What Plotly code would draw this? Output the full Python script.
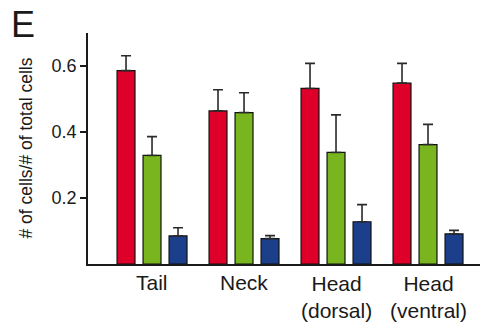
import plotly.graph_objects as go

regions = ["Tail", "Neck", "Head<br>(dorsal)", "Head<br>(ventral)"]
red_vals = [0.586, 0.464, 0.532, 0.548]
red_err = [0.045, 0.064, 0.076, 0.060]
green_vals = [0.329, 0.459, 0.338, 0.362]
green_err = [0.057, 0.060, 0.114, 0.061]
blue_vals = [0.085, 0.077, 0.128, 0.091]
blue_err = [0.025, 0.009, 0.052, 0.011]
y_ticks = [0.2, 0.4, 0.6]

series = [
    (red_vals, red_err, "#DE0029"),
    (green_vals, green_err, "#78B51E"),
    (blue_vals, blue_err, "#1C3F8C"),
]

fig = go.Figure()
for vals, errs, color in series:
    fig.add_trace(go.Bar(
        x=regions, y=vals,
        marker=dict(color=color, line=dict(color="#111111", width=1.2)),
        error_y=dict(type="data", array=errs, arrayminus=[0] * len(errs),
                     symmetric=False, color="#2a2a2a", thickness=1.6, width=5),
        showlegend=False,
    ))

annotations = [
    dict(text="# of cells/# of total cells", textangle=-90, showarrow=False,
         xref="paper", yref="paper", x=-0.1607, y=0.5,
         xanchor="center", yanchor="middle", font=dict(size=17.5)),
    dict(text="E", showarrow=False, xref="paper", yref="paper",
         x=-0.166, y=1.035, xanchor="center", yanchor="middle",
         font=dict(size=36)),
]
# Category labels under the axis; two-line labels are centred lower so
# that their first line sits level with the single-line ones
for i, name in enumerate(regions):
    two_lines = "<br>" in name
    annotations.append(dict(text=name, showarrow=False, xref="x", yref="paper",
                            x=i, y=-0.141 if two_lines else -0.082,
                            xanchor="center", yanchor="middle",
                            borderpad=0, font=dict(size=21)))

fig.update_layout(
    width=482, height=329,
    margin=dict(l=88, r=2, t=33, b=65),
    paper_bgcolor="white", plot_bgcolor="white",
    barmode="group", bargap=0.152, bargroupgap=0.31,
    font=dict(family="Liberation Sans, Arial, sans-serif", color="#1a1a1a"),
    xaxis=dict(
        range=[-0.696, 3.565], showline=True, linecolor="#1a1a1a", linewidth=1.5,
        ticks="", showgrid=False, showticklabels=False, zeroline=False,
    ),
    yaxis=dict(
        range=[0, 0.7], tickvals=y_ticks, ticktext=["0.2", "0.4", "0.6"],
        showline=True, linecolor="#1a1a1a", linewidth=1.5,
        ticks="outside", ticklen=6, tickwidth=1.5, tickcolor="#1a1a1a",
        showgrid=False, zeroline=False, tickfont=dict(size=18),
    ),
    annotations=annotations,
)

fig.write_html("out.html")
